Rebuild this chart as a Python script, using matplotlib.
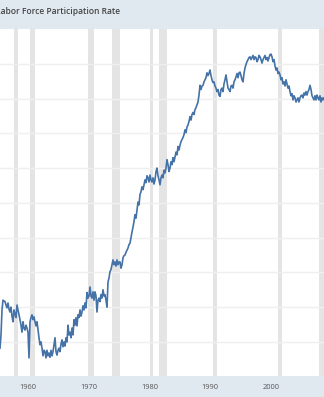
import matplotlib.pyplot as plt
import pandas as pd

# series values (about one reading every two months)
values = [
    34.1, 36.0, 39.6, 41.0, 40.9, 40.8, 40.3, 39.9, 40.6, 39.7,
    39.3, 40.0, 38.7, 37.9, 39.6, 39.0, 38.5, 40.3, 39.6, 38.9,
    38.2, 37.4, 36.4, 37.9, 37.0, 36.7, 37.4, 37.0, 36.4, 32.7,
    37.9, 38.5, 38.9, 38.2, 38.6, 37.9, 37.3, 37.9, 36.7, 35.6,
    34.6, 35.0, 34.1, 33.0, 33.8, 33.6, 32.7, 33.8, 33.0, 33.4,
    32.8, 33.8, 33.0, 33.6, 34.6, 35.6, 33.6, 33.1, 33.8, 34.1,
    33.6, 34.7, 35.3, 34.3, 35.0, 34.4, 35.6, 35.0, 37.4, 36.0,
    36.4, 35.6, 37.0, 36.0, 38.2, 37.4, 38.5, 37.3, 38.9, 38.5,
    39.6, 38.7, 39.3, 40.2, 39.6, 40.6, 39.9, 42.1, 41.3, 41.6,
    42.9, 41.6, 41.3, 42.2, 41.0, 42.2, 41.6, 39.3, 41.0, 41.3,
    40.8, 41.8, 41.3, 42.5, 41.6, 41.8, 41.0, 40.0, 43.6, 44.2,
    45.1, 45.4, 46.1, 46.8, 46.1, 46.5, 45.9, 46.8, 46.1, 46.5,
    46.5, 45.6, 46.1, 47.1, 47.4, 47.5, 47.9, 48.2, 48.5, 49.0,
    49.2, 50.0, 50.8, 51.5, 52.3, 53.3, 52.8, 54.0, 55.1, 54.7,
    56.2, 56.6, 57.3, 56.9, 57.6, 58.3, 57.9, 58.9, 58.6, 58.0,
    59.0, 58.3, 58.0, 58.6, 57.7, 58.3, 59.5, 60.0, 58.9, 58.3,
    57.6, 58.6, 59.0, 58.6, 59.7, 59.3, 60.0, 61.2, 60.5, 59.5,
    60.0, 60.9, 60.5, 61.5, 60.9, 61.6, 62.3, 61.9, 63.1, 62.6,
    63.3, 63.8, 64.1, 64.4, 64.8, 65.5, 65.1, 65.9, 66.2, 66.7,
    67.4, 66.9, 67.7, 68.0, 67.7, 68.4, 68.7, 69.1, 69.5, 70.5,
    71.9, 71.3, 71.8, 71.9, 72.4, 72.7, 73.0, 73.7, 73.3, 73.6,
    74.1, 73.3, 72.7, 72.3, 72.4, 71.8, 71.5, 71.0, 71.3, 70.5,
    70.3, 71.3, 71.5, 71.0, 72.1, 72.7, 73.4, 72.4, 71.5, 71.3,
    71.0, 71.8, 71.9, 71.5, 72.4, 72.7, 73.1, 73.6, 73.0, 73.7,
    73.8, 73.3, 72.7, 72.4, 73.6, 74.4, 74.9, 75.3, 75.6, 75.9,
    76.0, 75.6, 75.9, 76.2, 75.6, 76.0, 75.9, 75.3, 75.6, 76.2,
    76.0, 75.6, 75.1, 75.6, 75.9, 76.2, 75.6, 75.9, 75.4, 75.9,
    76.3, 76.4, 76.0, 75.3, 75.6, 74.7, 74.1, 74.4, 73.6, 73.8,
    73.4, 72.7, 73.0, 72.1, 72.4, 71.8, 72.7, 72.1, 71.5, 71.8,
    71.0, 70.4, 70.7, 69.8, 70.4, 70.1, 69.5, 69.8, 70.1, 69.5,
    70.1, 70.4, 70.5, 70.1, 70.8, 70.5, 71.0, 70.5, 71.0, 71.3,
    71.9, 71.3, 70.4, 70.1, 69.8, 70.4, 69.8, 70.5, 70.1, 69.8,
    70.4, 69.5, 70.1, 69.8, 70.1,
]
dates = pd.date_range("1955-05-01", "2008-10-15", periods=len(values))

# NBER recessions (start, end)
recessions = [
    ("1957-08-01", "1958-04-01"), ("1960-04-01", "1961-02-01"),
    ("1969-12-01", "1970-11-01"), ("1973-11-01", "1975-03-01"),
    ("1980-01-01", "1980-07-01"), ("1981-07-01", "1982-11-01"),
    ("1990-07-01", "1991-03-01"), ("2001-03-01", "2001-11-01"),
    ("2007-12-01", "2009-06-01"),
]
tick_years = [1960, 1970, 1980, 1990, 2000]
title = "Labor Force Participation Rate"

band = "#e1e9f0"
fig = plt.figure(figsize=(3.24, 3.97), dpi=100, facecolor=band)
ax = fig.add_axes([0, 21 / 397, 1, 347 / 397])
ax.set_facecolor("white")

for start, end in recessions:
    ax.axvspan(pd.Timestamp(start), pd.Timestamp(end), color="#e4e4e4", lw=0, zorder=1)

ax.plot(dates, values, color="#4572a7", lw=1.2, zorder=3)

ax.set_xlim(pd.Timestamp("1955-05-01"), pd.Timestamp("2008-10-15"))
ax.set_ylim(30.1, 80.0)
ax.set_yticks(range(35, 80, 5))
ax.set_xticks([pd.Timestamp(f"{y}-01-01") for y in tick_years])
ax.set_xticklabels([str(y) for y in tick_years])
ax.grid(axis="y", color="#efefef", lw=1.0, zorder=0)
ax.tick_params(axis="x", length=0, pad=6, labelsize=5.4, labelcolor="#555555")
ax.tick_params(axis="y", length=0, labelleft=False)
for t in ax.get_xticklabels():
    t.set_fontfamily("Open Sans")
for s in ax.spines.values():
    s.set_visible(False)

# the reference crops the first letter of the title at the left edge
fig.text(-0.012, 1 - 12 / 397, title, ha="left", va="center", fontsize=6.1,
         family="Open Sans", fontweight="semibold", color="#444444")

fig.savefig("out.png", dpi=100, facecolor=band)
